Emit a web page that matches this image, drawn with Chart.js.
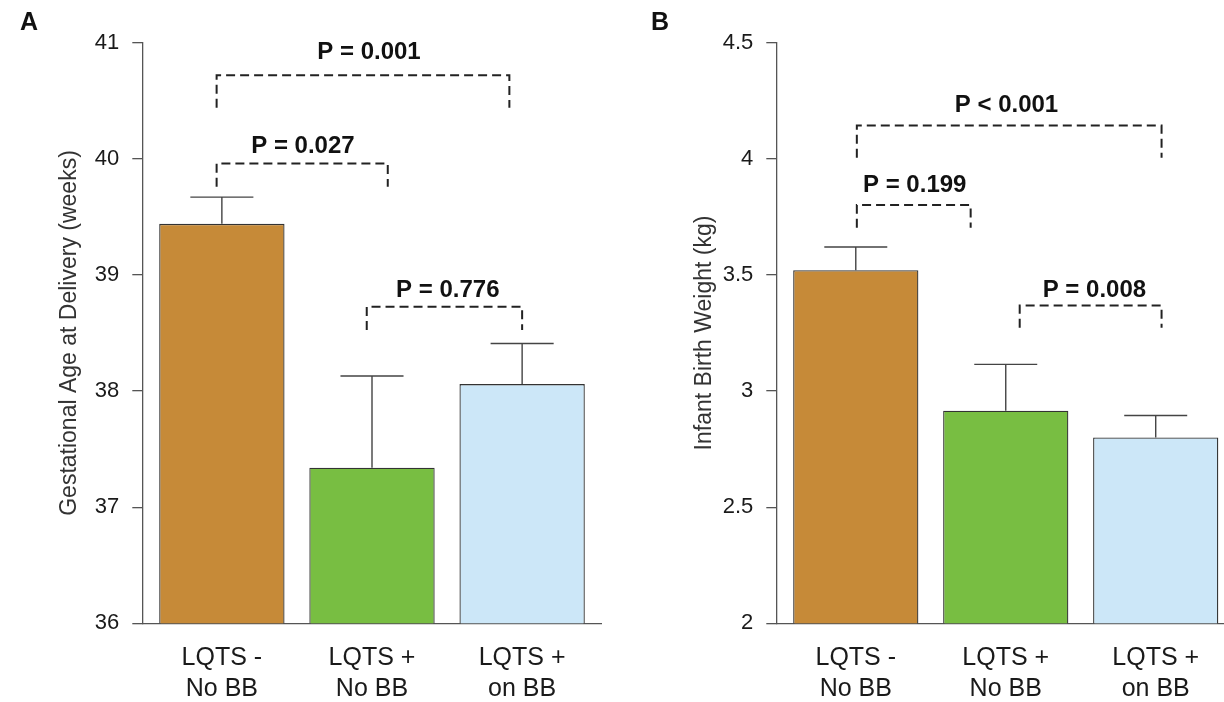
<!DOCTYPE html>
<html>
<head>
<meta charset="utf-8">
<title>LQTS pregnancy outcomes</title>
<script src="https://cdn.jsdelivr.net/npm/chart.js@4.4.1/dist/chart.umd.min.js"></script>
<style>
	html, body { margin: 0; padding: 0; background: #fff; width: 1224px; height: 702px; overflow: hidden; }
	.panel { position: absolute; top: 0; height: 702px; }
	#wrapA { left: 0; width: 612px; }
	#wrapB { left: 612px; width: 630px; }
	.tag { position: absolute; top: 9px; font: bold 25px "Liberation Sans", Arial, sans-serif; line-height: 1; color: #111; }
</style>
</head>
<body>
<div class="panel" id="wrapA"><canvas id="chartA"></canvas></div>
<div class="panel" id="wrapB"><canvas id="chartB"></canvas></div>
<div class="tag" style="left:20px">A</div>
<div class="tag" style="left:651px">B</div>
<script>
// groups (x positions 0, 1, 2)
const categories = [["LQTS -", "No BB"], ["LQTS +", "No BB"], ["LQTS +", "on BB"]];
const barColors = ["#C68A38", "#78BE42", "#CCE7F8"];

// panel A - gestational age (weeks), mean and upper error
const gestMean = [39.44, 37.34, 38.06];
const gestErr = [0.23, 0.79, 0.35];
const gestTicks = [36, 37, 38, 39, 40, 41];

// panel B - infant birth weight (kg)
const weightMean = [3.52, 2.915, 2.80];
const weightErr = [0.10, 0.20, 0.095];
const weightTicks = [2, 2.5, 3, 3.5, 4, 4.5];

// p-value labels and brackets (x in group units, y in data units)
const gestP = ["P = 0.001", "P = 0.027", "P = 0.776"];
const gestBrackets = [
	{ x1: -0.035, x2: 1.915, y: 40.72, drop: 40.44, tx: 0.98, ty: 40.86 },
	{ x1: -0.035, x2: 1.105, y: 39.96, drop: 39.76, tx: 0.54, ty: 40.05 },
	{ x1: 0.965, x2: 2.0, y: 38.725, drop: 38.525, tx: 1.505, ty: 38.81 },
];
const weightP = ["P < 0.001", "P = 0.199", "P = 0.008"];
const weightBrackets = [
	{ x1: 0.007, x2: 2.039, y: 4.143, drop: 4.005, tx: 1.005, ty: 4.203 },
	{ x1: 0.007, x2: 0.766, y: 3.801, drop: 3.703, tx: 0.393, ty: 3.858 },
	{ x1: 1.093, x2: 2.039, y: 3.368, drop: 3.273, tx: 1.591, ty: 3.406 },
];

Chart.defaults.font.family = '"Liberation Sans", Arial, Helvetica, sans-serif';

// error bars + significance brackets, placed through the chart scales
const annotate = {
	id: "annotate",
	afterDatasetsDraw(chart, args, opts) {
		const { ctx } = chart;
		const x = chart.scales.x;
		const y = chart.scales.y;
		ctx.save();

		// error bars
		ctx.strokeStyle = "#444";
		ctx.lineWidth = 1.4;
		opts.means.forEach((m, i) => {
			const cx = x.getPixelForValue(i);
			const half = x.getPixelForValue(i + 0.21) - cx;
			const yBar = y.getPixelForValue(m);
			const yTop = y.getPixelForValue(m + opts.errs[i]);
			ctx.beginPath();
			ctx.moveTo(cx, yBar);
			ctx.lineTo(cx, yTop);
			ctx.moveTo(cx - half, yTop);
			ctx.lineTo(cx + half, yTop);
			ctx.stroke();
		});

		// dashed brackets
		ctx.strokeStyle = "#222";
		ctx.lineWidth = 2;
		ctx.setLineDash([9, 5]);
		opts.brackets.forEach((b) => {
			const xl = x.getPixelForValue(b.x1);
			const xr = x.getPixelForValue(b.x2);
			const yh = y.getPixelForValue(b.y);
			const yd = y.getPixelForValue(b.drop);
			ctx.beginPath();
			ctx.moveTo(xl, yd);
			ctx.lineTo(xl, yh);
			ctx.lineTo(xr, yh);
			ctx.lineTo(xr, yd);
			ctx.stroke();
		});
		ctx.setLineDash([]);

		// p-value text
		ctx.fillStyle = "#111";
		ctx.font = 'bold 24px "Liberation Sans", Arial, sans-serif';
		ctx.textAlign = "center";
		ctx.textBaseline = "alphabetic";
		opts.brackets.forEach((b, i) => {
			ctx.fillText(opts.labels[i], x.getPixelForValue(b.tx), y.getPixelForValue(b.ty));
		});
		ctx.restore();
	},
};

function makeChart(id, means, errs, yTicks, yTitle, axisWidth, titlePad, padRight, labels, brackets) {
	const ctx = document.getElementById(id).getContext("2d");
	return new Chart(ctx, {
		type: "bar",
		data: {
			datasets: [
				{
					data: means.map((v, i) => ({ x: i, y: v })),
					backgroundColor: barColors,
					borderColor: "#333",
					borderWidth: 1.3,
					borderSkipped: false,
					barPercentage: 0.835,
					categoryPercentage: 1,
				},
			],
		},
		options: {
			responsive: true,
			maintainAspectRatio: false,
			animation: false,
			layout: { padding: { top: 42.7, right: padRight, left: 0, bottom: 0 } },
			plugins: {
				legend: { display: false },
				tooltip: { enabled: false },
				annotate: { means: means, errs: errs, labels: labels, brackets: brackets },
			},
			scales: {
				x: {
					type: "linear",
					min: -0.53,
					max: 2.53,
					offset: false,
					afterBuildTicks: (scale) => {
						scale.ticks = categories.map((c, i) => ({ value: i }));
					},
					afterFit: (scale) => {
						scale.height = 702 - 623.3;
					},
					ticks: {
						callback: (v) => categories[v],
						font: { size: 25, lineHeight: 1.26 },
						color: "#1a1a1a",
						padding: 19,
						maxRotation: 0,
						autoSkip: false,
					},
					grid: { display: false, drawTicks: false, offset: false },
					border: { display: true, color: "#555", width: 1.3 },
				},
				y: {
					min: yTicks[0],
					max: yTicks[yTicks.length - 1],
					afterBuildTicks: (scale) => {
						scale.ticks = yTicks.map((v) => ({ value: v }));
					},
					afterFit: (scale) => {
						scale.width = axisWidth;
					},
					ticks: {
						callback: (v) => String(v),
						font: { size: 22 },
						color: "#1a1a1a",
						padding: 13,
					},
					grid: { drawOnChartArea: false, drawTicks: true, tickLength: 10, color: "#555", lineWidth: 1.3 },
					border: { display: true, color: "#555", width: 1.3 },
					title: {
						display: true,
						text: yTitle,
						color: "#333",
						font: { size: 23 },
						padding: { top: titlePad, bottom: 0 },
					},
				},
			},
		},
		plugins: [annotate],
	});
}

makeChart("chartA", gestMean, gestErr, gestTicks, "Gestational Age at Delivery (weeks)", 142.3, 56.2, 10.3, gestP, gestBrackets);
makeChart("chartB", weightMean, weightErr, weightTicks, "Infant Birth Weight (kg)", 164.3, 78.7, 6.8, weightP, weightBrackets);
</script>
</body>
</html>
